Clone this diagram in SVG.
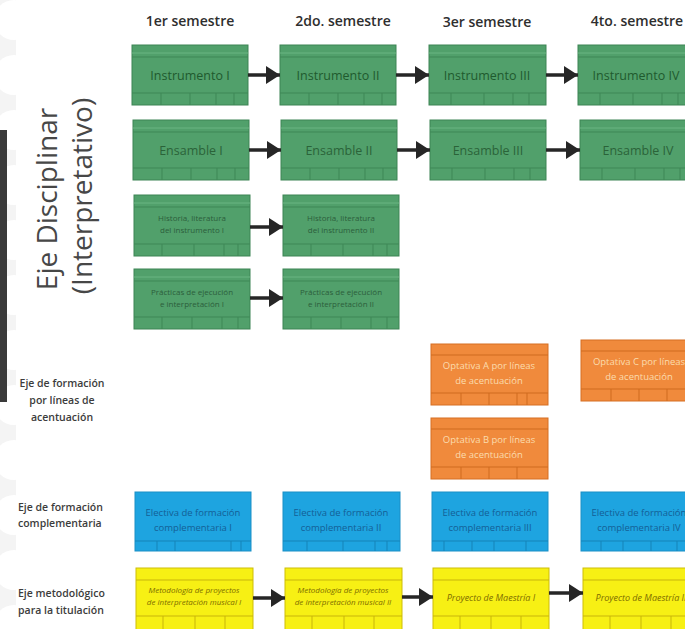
<svg xmlns="http://www.w3.org/2000/svg" width="685" height="629" viewBox="0 0 685 629">
<style>
  .hdr{font-family:"Open Sans","Liberation Sans",sans-serif;font-size:14px;font-weight:600;fill:#2e2e2e;text-anchor:middle}
  .side{font-family:"Open Sans","Liberation Sans",sans-serif;font-size:28px;fill:#474747;text-anchor:middle}
  .lab{font-family:"Open Sans","Liberation Sans",sans-serif;font-size:10.5px;font-weight:600;fill:#3c3c3c}
  .g{fill:#51a06b;stroke:#3d8454;stroke-width:1}
  .gl{stroke:#3f8757;stroke-width:1}
  .gs{stroke:#6bb583;stroke-width:1}
  .o{fill:#f08a3c;stroke:#d66e22;stroke-width:1}
  .ol{stroke:#cf6a1f;stroke-width:1}
  .b{fill:#1ea4e0;stroke:#1a8fc6;stroke-width:1}
  .bl{stroke:#1583b8;stroke-width:1}
  .y{fill:#f7f014;stroke:#cdbd08;stroke-width:1}
  .yl{stroke:#c8b50a;stroke-width:1}
  .tg{font-family:"Open Sans","Liberation Sans",sans-serif;font-size:12.5px;fill:#1f5a2e;text-anchor:middle}
  .tge{font-family:"Open Sans","Liberation Sans",sans-serif;font-size:12.5px;fill:#2b6339;text-anchor:middle}
  .tgs{font-family:"Open Sans","Liberation Sans",sans-serif;font-size:8px;fill:#2c5e3b;text-anchor:middle}
  .to{font-family:"Open Sans","Liberation Sans",sans-serif;font-size:9.5px;fill:#fbdcae;text-anchor:middle}
  .tb{font-family:"Open Sans","Liberation Sans",sans-serif;font-size:9.5px;fill:#145f96;text-anchor:middle}
  .ty{font-family:"Open Sans","Liberation Sans",sans-serif;font-size:8px;font-style:italic;fill:#7d6c00;text-anchor:middle}
  .tyb{font-family:"Open Sans","Liberation Sans",sans-serif;font-size:9px;font-style:italic;fill:#7d6c00;text-anchor:middle}
  .arr{stroke:#262626;stroke-width:3.5;fill:none;marker-end:url(#ah)}
</style>
<defs>
  <marker id="ah" markerUnits="userSpaceOnUse" markerWidth="14" markerHeight="18" refX="14" refY="9" orient="auto">
    <path d="M0,0 L14,9 L0,18 z" fill="#262626"/>
  </marker>
</defs>
<rect width="685" height="629" fill="#ffffff"/>
<g id="background">
  <rect x="0" y="0" width="16" height="629" fill="#f4f4f4"/>
  <circle cx="14" cy="20" r="20" fill="#fff"/>
  <circle cx="14" cy="75" r="20" fill="#fff"/>
  <circle cx="14" cy="130" r="20" fill="#fff"/>
  <circle cx="14" cy="185" r="20" fill="#fff"/>
  <circle cx="14" cy="240" r="20" fill="#fff"/>
  <circle cx="14" cy="295" r="20" fill="#fff"/>
  <circle cx="14" cy="350" r="20" fill="#fff"/>
  <circle cx="14" cy="405" r="20" fill="#fff"/>
  <circle cx="14" cy="460" r="20" fill="#fff"/>
  <circle cx="14" cy="515" r="20" fill="#fff"/>
  <circle cx="14" cy="570" r="20" fill="#fff"/>
  <circle cx="14" cy="625" r="20" fill="#fff"/>
  <rect x="0" y="130" width="7" height="272" fill="#3a3a3a"/>
</g>
<g id="headers">
  <text class="hdr" x="190" y="26">1er semestre</text>
  <text class="hdr" x="343" y="26">2do. semestre</text>
  <text class="hdr" x="487" y="27">3er semestre</text>
  <text class="hdr" x="637" y="26">4to. semestre</text>
</g>
<g id="axis-labels">
  <text class="side" transform="translate(57,199) rotate(-90)">Eje Disciplinar</text>
  <text class="side" transform="translate(92,196) rotate(-90)">(Interpretativo)</text>
  <text class="lab" x="62" y="387" text-anchor="middle">Eje de formación</text>
  <text class="lab" x="62" y="404" text-anchor="middle">por líneas de</text>
  <text class="lab" x="62" y="421" text-anchor="middle">acentuación</text>
  <text class="lab" x="18" y="511">Eje de formación</text>
  <text class="lab" x="18" y="527">complementaria</text>
  <text class="lab" x="18" y="597">Eje metodológico</text>
  <text class="lab" x="18" y="614">para la titulación</text>
</g>

<!-- Row 1: Instrumento -->
<g id="instrumento-1" transform="translate(132,45)">
  <rect class="g" width="116" height="60"/><line class="gs" x1="0" y1="8" x2="116" y2="8"/><line class="gl" x1="0" y1="12" x2="116" y2="12"/><line class="gl" x1="0" y1="48" x2="116" y2="48"/>
  <line class="gl" x1="29" y1="48" x2="29" y2="60"/><line class="gl" x1="58" y1="48" x2="58" y2="60"/><line class="gl" x1="84" y1="48" x2="84" y2="60"/><line class="gl" x1="102" y1="48" x2="102" y2="60"/>
  <text class="tg" x="58" y="35">Instrumento I</text>
</g>
<g id="instrumento-2" transform="translate(280,45)">
  <rect class="g" width="116" height="60"/><line class="gs" x1="0" y1="8" x2="116" y2="8"/><line class="gl" x1="0" y1="12" x2="116" y2="12"/><line class="gl" x1="0" y1="48" x2="116" y2="48"/>
  <line class="gl" x1="29" y1="48" x2="29" y2="60"/><line class="gl" x1="58" y1="48" x2="58" y2="60"/><line class="gl" x1="84" y1="48" x2="84" y2="60"/><line class="gl" x1="102" y1="48" x2="102" y2="60"/>
  <text class="tg" x="58" y="35">Instrumento II</text>
</g>
<g id="instrumento-3" transform="translate(429,45)">
  <rect class="g" width="117" height="60"/><line class="gs" x1="0" y1="8" x2="117" y2="8"/><line class="gl" x1="0" y1="12" x2="117" y2="12"/><line class="gl" x1="0" y1="48" x2="117" y2="48"/>
  <line class="gl" x1="22" y1="48" x2="22" y2="60"/><line class="gl" x1="55" y1="48" x2="55" y2="60"/><line class="gl" x1="84" y1="48" x2="84" y2="60"/><line class="gl" x1="100" y1="48" x2="100" y2="60"/>
  <text class="tg" x="58" y="35">Instrumento III</text>
</g>
<g id="instrumento-4" transform="translate(578,45)">
  <rect class="g" width="117" height="60"/><line class="gs" x1="0" y1="8" x2="117" y2="8"/><line class="gl" x1="0" y1="12" x2="117" y2="12"/><line class="gl" x1="0" y1="48" x2="117" y2="48"/>
  <line class="gl" x1="22" y1="48" x2="22" y2="60"/><line class="gl" x1="55" y1="48" x2="55" y2="60"/><line class="gl" x1="84" y1="48" x2="84" y2="60"/><line class="gl" x1="100" y1="48" x2="100" y2="60"/>
  <text class="tg" x="58" y="35">Instrumento IV</text>
</g>

<!-- Row 2: Ensamble -->
<g id="ensamble-1" transform="translate(133,120)">
  <rect class="g" width="116" height="60"/><line class="gs" x1="0" y1="8" x2="116" y2="8"/><line class="gl" x1="0" y1="12" x2="116" y2="12"/><line class="gl" x1="0" y1="48" x2="116" y2="48"/>
  <line class="gl" x1="29" y1="48" x2="29" y2="60"/><line class="gl" x1="58" y1="48" x2="58" y2="60"/><line class="gl" x1="84" y1="48" x2="84" y2="60"/><line class="gl" x1="102" y1="48" x2="102" y2="60"/>
  <text class="tge" x="58" y="35">Ensamble I</text>
</g>
<g id="ensamble-2" transform="translate(281,120)">
  <rect class="g" width="116" height="60"/><line class="gs" x1="0" y1="8" x2="116" y2="8"/><line class="gl" x1="0" y1="12" x2="116" y2="12"/><line class="gl" x1="0" y1="48" x2="116" y2="48"/>
  <line class="gl" x1="29" y1="48" x2="29" y2="60"/><line class="gl" x1="58" y1="48" x2="58" y2="60"/><line class="gl" x1="84" y1="48" x2="84" y2="60"/><line class="gl" x1="102" y1="48" x2="102" y2="60"/>
  <text class="tge" x="58" y="35">Ensamble II</text>
</g>
<g id="ensamble-3" transform="translate(430,120)">
  <rect class="g" width="116" height="60"/><line class="gs" x1="0" y1="8" x2="116" y2="8"/><line class="gl" x1="0" y1="12" x2="116" y2="12"/><line class="gl" x1="0" y1="48" x2="116" y2="48"/>
  <line class="gl" x1="22" y1="48" x2="22" y2="60"/><line class="gl" x1="55" y1="48" x2="55" y2="60"/><line class="gl" x1="84" y1="48" x2="84" y2="60"/><line class="gl" x1="100" y1="48" x2="100" y2="60"/>
  <text class="tge" x="58" y="35">Ensamble III</text>
</g>
<g id="ensamble-4" transform="translate(580,120)">
  <rect class="g" width="116" height="60"/><line class="gs" x1="0" y1="8" x2="116" y2="8"/><line class="gl" x1="0" y1="12" x2="116" y2="12"/><line class="gl" x1="0" y1="48" x2="116" y2="48"/>
  <line class="gl" x1="22" y1="48" x2="22" y2="60"/><line class="gl" x1="55" y1="48" x2="55" y2="60"/><line class="gl" x1="84" y1="48" x2="84" y2="60"/><line class="gl" x1="100" y1="48" x2="100" y2="60"/>
  <text class="tge" x="58" y="35">Ensamble IV</text>
</g>

<!-- Row 3: Historia -->
<g id="historia-1" transform="translate(134,195)">
  <rect class="g" width="116" height="61"/><line class="gs" x1="0" y1="8" x2="116" y2="8"/><line class="gl" x1="0" y1="12" x2="116" y2="12"/><line class="gl" x1="0" y1="49" x2="116" y2="49"/>
  <line class="gl" x1="28" y1="49" x2="28" y2="61"/><line class="gl" x1="60" y1="49" x2="60" y2="61"/><line class="gl" x1="90" y1="49" x2="90" y2="61"/><line class="gl" x1="104" y1="49" x2="104" y2="61"/>
  <text class="tgs" x="58" y="26">Historia, literatura</text>
  <text class="tgs" x="58" y="38">del instrumento I</text>
</g>
<g id="historia-2" transform="translate(283,195)">
  <rect class="g" width="116" height="61"/><line class="gs" x1="0" y1="8" x2="116" y2="8"/><line class="gl" x1="0" y1="12" x2="116" y2="12"/><line class="gl" x1="0" y1="49" x2="116" y2="49"/>
  <line class="gl" x1="28" y1="49" x2="28" y2="61"/><line class="gl" x1="60" y1="49" x2="60" y2="61"/><line class="gl" x1="90" y1="49" x2="90" y2="61"/><line class="gl" x1="104" y1="49" x2="104" y2="61"/>
  <text class="tgs" x="58" y="26">Historia, literatura</text>
  <text class="tgs" x="58" y="38">del instrumento II</text>
</g>

<!-- Row 4: Practicas -->
<g id="practicas-1" transform="translate(134,269)">
  <rect class="g" width="116" height="60"/><line class="gs" x1="0" y1="8" x2="116" y2="8"/><line class="gl" x1="0" y1="12" x2="116" y2="12"/><line class="gl" x1="0" y1="48" x2="116" y2="48"/>
  <line class="gl" x1="28" y1="48" x2="28" y2="60"/><line class="gl" x1="58" y1="48" x2="58" y2="60"/><line class="gl" x1="88" y1="48" x2="88" y2="60"/><line class="gl" x1="104" y1="48" x2="104" y2="60"/>
  <text class="tgs" x="58" y="26">Prácticas de ejecución</text>
  <text class="tgs" x="58" y="38">e interpretación I</text>
</g>
<g id="practicas-2" transform="translate(283,269)">
  <rect class="g" width="116" height="60"/><line class="gs" x1="0" y1="8" x2="116" y2="8"/><line class="gl" x1="0" y1="12" x2="116" y2="12"/><line class="gl" x1="0" y1="48" x2="116" y2="48"/>
  <line class="gl" x1="28" y1="48" x2="28" y2="60"/><line class="gl" x1="58" y1="48" x2="58" y2="60"/><line class="gl" x1="88" y1="48" x2="88" y2="60"/><line class="gl" x1="104" y1="48" x2="104" y2="60"/>
  <text class="tgs" x="58" y="26">Prácticas de ejecución</text>
  <text class="tgs" x="58" y="38">e interpretación II</text>
</g>

<!-- Orange -->
<g id="optativa-a" transform="translate(431,344)">
  <rect class="o" width="117" height="61"/><line class="ol" x1="0" y1="11" x2="117" y2="11"/><line class="ol" x1="0" y1="49" x2="117" y2="49"/>
  <line class="ol" x1="30" y1="49" x2="30" y2="61"/><line class="ol" x1="58" y1="49" x2="58" y2="61"/><line class="ol" x1="86" y1="49" x2="86" y2="61"/><line class="ol" x1="96" y1="49" x2="96" y2="61"/>
  <text class="to" x="58" y="25">Optativa A por líneas</text>
  <text class="to" x="58" y="40">de acentuación</text>
</g>
<g id="optativa-b" transform="translate(431,418)">
  <rect class="o" width="117" height="61"/><line class="ol" x1="0" y1="11" x2="117" y2="11"/><line class="ol" x1="0" y1="49" x2="117" y2="49"/>
  <line class="ol" x1="30" y1="49" x2="30" y2="61"/><line class="ol" x1="58" y1="49" x2="58" y2="61"/><line class="ol" x1="86" y1="49" x2="86" y2="61"/>
  <text class="to" x="58" y="25">Optativa B por líneas</text>
  <text class="to" x="58" y="40">de acentuación</text>
</g>
<g id="optativa-c" transform="translate(581,340)">
  <rect class="o" width="117" height="61"/><line class="ol" x1="0" y1="11" x2="117" y2="11"/><line class="ol" x1="0" y1="49" x2="117" y2="49"/>
  <line class="ol" x1="30" y1="49" x2="30" y2="61"/><line class="ol" x1="58" y1="49" x2="58" y2="61"/><line class="ol" x1="86" y1="49" x2="86" y2="61"/>
  <text class="to" x="58" y="25">Optativa C por líneas</text>
  <text class="to" x="58" y="40">de acentuación</text>
</g>

<!-- Blue -->
<g id="electiva-1" transform="translate(135,492)">
  <rect class="b" width="116" height="59"/><line class="bl" x1="0" y1="49" x2="116" y2="49"/>
  <line class="bl" x1="22" y1="49" x2="22" y2="59"/><line class="bl" x1="40" y1="49" x2="40" y2="59"/><line class="bl" x1="96" y1="49" x2="96" y2="59"/><line class="bl" x1="106" y1="49" x2="106" y2="59"/>
  <text class="tb" x="58" y="24">Electiva de formación</text>
  <text class="tb" x="58" y="39">complementaria I</text>
</g>
<g id="electiva-2" transform="translate(283,492)">
  <rect class="b" width="117" height="59"/><line class="bl" x1="0" y1="49" x2="117" y2="49"/>
  <line class="bl" x1="24" y1="49" x2="24" y2="59"/><line class="bl" x1="60" y1="49" x2="60" y2="59"/><line class="bl" x1="92" y1="49" x2="92" y2="59"/><line class="bl" x1="104" y1="49" x2="104" y2="59"/>
  <text class="tb" x="58" y="24">Electiva de formación</text>
  <text class="tb" x="58" y="39">complementaria II</text>
</g>
<g id="electiva-3" transform="translate(432,492)">
  <rect class="b" width="116" height="59"/><line class="bl" x1="0" y1="49" x2="116" y2="49"/>
  <line class="bl" x1="12" y1="49" x2="12" y2="59"/><line class="bl" x1="40" y1="49" x2="40" y2="59"/><line class="bl" x1="62" y1="49" x2="62" y2="59"/><line class="bl" x1="94" y1="49" x2="94" y2="59"/>
  <text class="tb" x="58" y="24">Electiva de formación</text>
  <text class="tb" x="58" y="39">complementaria III</text>
</g>
<g id="electiva-4" transform="translate(581,492)">
  <rect class="b" width="117" height="59"/><line class="bl" x1="0" y1="49" x2="117" y2="49"/>
  <line class="bl" x1="20" y1="49" x2="20" y2="59"/><line class="bl" x1="42" y1="49" x2="42" y2="59"/><line class="bl" x1="70" y1="49" x2="70" y2="59"/><line class="bl" x1="96" y1="49" x2="96" y2="59"/>
  <text class="tb" x="58" y="24">Electiva de formación</text>
  <text class="tb" x="58" y="39">complementaria IV</text>
</g>

<!-- Yellow -->
<g id="metodologia-1" transform="translate(136,568)">
  <rect class="y" width="117" height="66"/><line class="yl" x1="0" y1="12" x2="117" y2="12"/><line class="yl" x1="0" y1="48" x2="117" y2="48"/>
  <line class="yl" x1="27" y1="48" x2="27" y2="66"/><line class="yl" x1="59" y1="48" x2="59" y2="66"/><line class="yl" x1="89" y1="48" x2="89" y2="66"/>
  <text class="ty" x="58" y="25">Metodología de proyectos</text>
  <text class="ty" x="58" y="37">de interpretación musical I</text>
</g>
<g id="metodologia-2" transform="translate(285,568)">
  <rect class="y" width="117" height="66"/><line class="yl" x1="0" y1="12" x2="117" y2="12"/><line class="yl" x1="0" y1="48" x2="117" y2="48"/>
  <line class="yl" x1="27" y1="48" x2="27" y2="66"/><line class="yl" x1="59" y1="48" x2="59" y2="66"/><line class="yl" x1="89" y1="48" x2="89" y2="66"/>
  <text class="ty" x="58" y="25">Metodología de proyectos</text>
  <text class="ty" x="58" y="37">de interpretación musical II</text>
</g>
<g id="proyecto-1" transform="translate(433,568)">
  <rect class="y" width="116" height="66"/><line class="yl" x1="0" y1="12" x2="116" y2="12"/><line class="yl" x1="0" y1="48" x2="116" y2="48"/>
  <line class="yl" x1="27" y1="48" x2="27" y2="66"/><line class="yl" x1="58" y1="48" x2="58" y2="66"/><line class="yl" x1="88" y1="48" x2="88" y2="66"/>
  <text class="tyb" x="58" y="33">Proyecto de Maestría I</text>
</g>
<g id="proyecto-2" transform="translate(583,568)">
  <rect class="y" width="117" height="66"/><line class="yl" x1="0" y1="12" x2="117" y2="12"/><line class="yl" x1="0" y1="48" x2="117" y2="48"/>
  <line class="yl" x1="27" y1="48" x2="27" y2="66"/><line class="yl" x1="58" y1="48" x2="58" y2="66"/><line class="yl" x1="88" y1="48" x2="88" y2="66"/>
  <text class="tyb" x="58" y="33">Proyecto de Maestría II</text>
</g>

<g id="connectors">
  <line class="arr" x1="248" y1="75" x2="280" y2="75"/>
  <line class="arr" x1="396" y1="75" x2="429" y2="75"/>
  <line class="arr" x1="546" y1="75" x2="578" y2="75"/>
  <line class="arr" x1="249" y1="150" x2="281" y2="150"/>
  <line class="arr" x1="397" y1="150" x2="430" y2="150"/>
  <line class="arr" x1="546" y1="150" x2="580" y2="150"/>
  <line class="arr" x1="250" y1="227" x2="283" y2="227"/>
  <line class="arr" x1="250" y1="298" x2="283" y2="298"/>
  <line class="arr" x1="253" y1="598" x2="285" y2="598"/>
  <line class="arr" x1="402" y1="597" x2="433" y2="597"/>
  <line class="arr" x1="549" y1="593" x2="583" y2="593"/>
</g>
</svg>
